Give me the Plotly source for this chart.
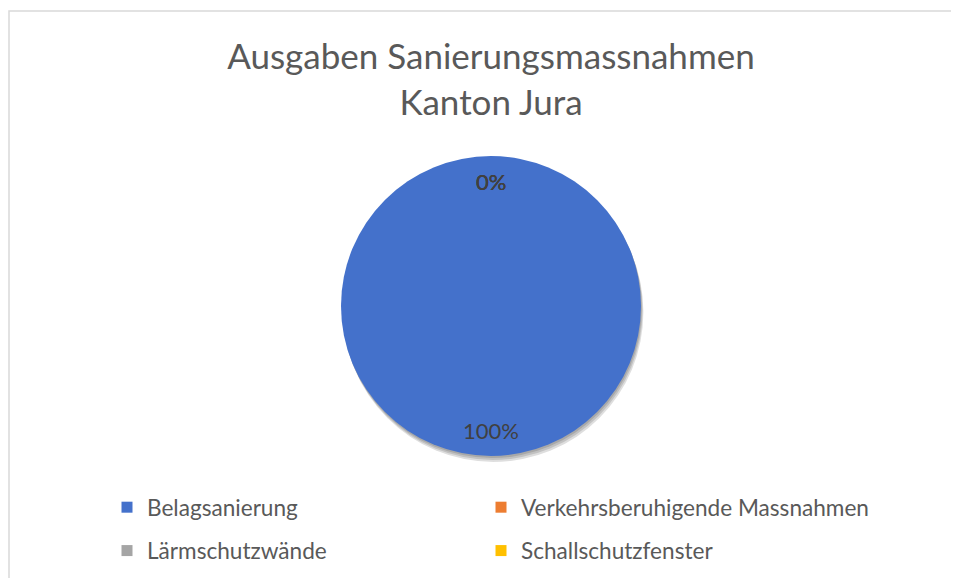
import math
import plotly.graph_objects as go

title_lines = ["Ausgaben Sanierungsmassnahmen", "Kanton Jura"]
categories = ["Belagsanierung", "Verkehrsberuhigende Massnahmen", "Lärmschutzwände", "Schallschutzfenster"]
values = [100, 0, 0, 0]
colors = ["#4471CB", "#ED7D31", "#A5A5A5", "#FFC000"]
legend_columns = ["legend", "legend2", "legend", "legend2"]

W, H = 959, 578
FONT = "Lato, 'Open Sans', sans-serif"
# pie domain (paper coords)
px0, px1 = 333 / W, 633 / W
py0, py1 = 1 - 449 / H, 1 - 147 / H

fig = go.Figure()

# soft shadow below the pie (a few stacked, offset, translucent copies)
for k, off in enumerate([2, 4, 6]):
    sh = off / H
    sx = off * 0.4 / W
    fig.add_trace(go.Pie(
        labels=[f"_shadow{k}_" + c for c in categories], values=values,
        domain=dict(x=[px0 + sx, px1 + sx], y=[py0 - sh, py1 - sh]),
        marker=dict(colors=["rgba(0,0,0,0.13)"] * 4, line=dict(width=0)),
        textinfo="none", hoverinfo="skip", sort=False, direction="clockwise",
        rotation=0, showlegend=False,
    ))

fig.add_trace(go.Pie(
    labels=categories, values=values,
    domain=dict(x=[px0, px1], y=[py0, py1]),
    marker=dict(colors=colors, line=dict(width=0)),
    textinfo="none", sort=False, direction="clockwise", rotation=0,
    showlegend=False,
))

# legend entries (two columns)
for name, col, lg in zip(categories, colors, legend_columns):
    fig.add_trace(go.Scatter(
        x=[None], y=[None], mode="markers", name=name, legend=lg, legendgroup=name,
        marker=dict(symbol="square", size=11, color=col), showlegend=True,
    ))

# data labels placed at each slice's mid-angle (computed from the values)
total = sum(values)
cx = (px0 + px1) / 2
cy = (py0 + py1) / 2
r_px = (px1 - px0) * W / 2
cum = 0.0
for v in values:
    mid = (cum + v / 2) / total * 2 * math.pi
    cum += v
    rf = 0.83
    dx = rf * r_px * math.sin(mid) / W
    dy = rf * r_px * math.cos(mid) / H
    fig.add_annotation(
        x=cx + dx, y=cy + dy, xref="paper", yref="paper",
        xanchor="center", yanchor="middle",
        text=f"{round(v / total * 100)}%", showarrow=False,
        font=dict(family=FONT, size=22, color="#404040"),
    )

# chart-area border
fig.add_shape(type="rect", xref="paper", yref="paper",
              x0=1 / W, x1=1.02, y0=-0.02, y1=1 - 3 / H,
              line=dict(color="#D9D9D9", width=1.5), fillcolor="rgba(0,0,0,0)", layer="below")

legend_common = dict(
    orientation="v", xanchor="left", yanchor="top", y=1 - 478 / H,
    tracegroupgap=11, itemwidth=30, bgcolor="rgba(0,0,0,0)",
    font=dict(family=FONT, size=22.6, color="#595959"),
)

fig.update_layout(
    width=W, height=H,
    paper_bgcolor="white", plot_bgcolor="white",
    margin=dict(l=0, r=0, t=0, b=0),
    xaxis=dict(visible=False), yaxis=dict(visible=False),
    title=dict(text="<br>".join(title_lines), x=483 / W, xanchor="center",
               y=1 - 61 / H, yanchor="top",
               font=dict(family=FONT, size=35, color="#595959")),
    legend=dict(x=99 / W, **legend_common),
    legend2=dict(x=473 / W, **legend_common),
)

fig.write_html("out.html")
